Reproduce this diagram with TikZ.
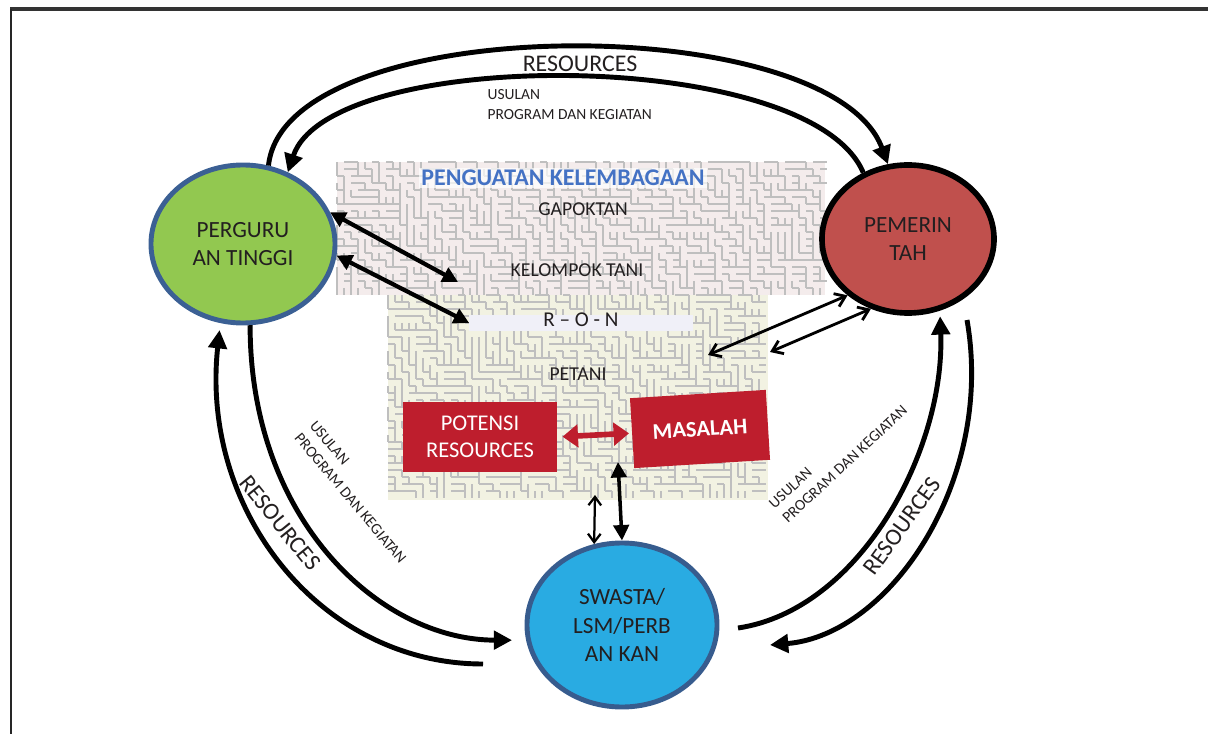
\documentclass[tikz,border=0pt]{standalone}
\usepackage{fontspec}
\setmainfont{Carlito}
\usetikzlibrary{shapes.geometric,arrows.meta,positioning}
\definecolor{ptgreen}{RGB}{146,200,80}
\definecolor{ptblue}{RGB}{59,96,148}
\definecolor{pmred}{RGB}{192,80,77}
\definecolor{swblue}{RGB}{41,171,226}
\definecolor{swline}{RGB}{55,92,142}
\definecolor{boxred}{RGB}{190,30,45}
\definecolor{titleblue}{RGB}{68,114,196}
\definecolor{txtdark}{RGB}{35,31,32}
\definecolor{bgpink}{RGB}{244,236,236}
\definecolor{bgyellow}{RGB}{242,242,226}
\definecolor{ronfill}{RGB}{240,240,248}
\begin{document}
\begin{tikzpicture}[x=0.025cm, y=-0.025cm,
  main/.style = {draw, ellipse, inner sep=0pt, text=txtdark, align=center, font=\fontsize{16.5}{20}\selectfont},
  redbox/.style = {fill=boxred, text=white, align=center, inner sep=0pt},
  lbl/.style = {text=txtdark, inner sep=1pt, font=\fontsize{14}{17}\selectfont},
  small/.style = {text=txtdark, inner sep=1pt, align=left, font=\fontsize{11}{14}\selectfont},
  big/.style = {text=txtdark, inner sep=1pt, font=\fontsize{17}{20}\selectfont},
  maze/.style = {draw=gray!50, line width=1.1pt},
  bigarc/.style = {line width=3.5pt, -{Triangle[length=13pt,width=13pt]}},
  dblthick/.style = {line width=3pt, {Triangle[length=11pt,width=11pt]}-{Triangle[length=11pt,width=11pt]}},
  dblmid/.style = {line width=2pt, {Straight Barb[length=7pt,width=10pt,line width=2pt]}-{Straight Barb[length=7pt,width=10pt,line width=2pt]}},
  dblthin/.style = {line width=1.6pt, {Straight Barb[length=6pt,width=9pt,line width=1.6pt]}-{Straight Barb[length=6pt,width=9pt,line width=1.6pt]}},
  redarrow/.style = {draw=boxred, line width=4pt, {Triangle[length=11pt,width=16pt]}-{Triangle[length=11pt,width=16pt]}},
  ]
\useasboundingbox (0,0) rectangle (1208,734);
% frame
\draw[line width=2.2pt, draw=black!80] (10,9) -- (1208,9);
\draw[line width=1.4pt, draw=black!85] (11,9) -- (11,734);

% textured background
\fill[bgpink] (337,162) rectangle (825,295);
\fill[bgyellow] (388,295) rectangle (768,500);
\pgfmathsetseed{11}
\foreach \i in {0,...,69}
  \foreach \j in {0,...,18} {
    \pgfmathtruncatemacro\r{rnd<0.5}
    \ifnum\r=1 \draw[maze] (337+7*\i,162+7*\j) -- ++(7,0);
    \else \draw[maze] (337+7*\i,162+7*\j) -- ++(0,7); \fi
  }
\foreach \i in {0,...,53}
  \foreach \j in {0,...,28} {
    \pgfmathtruncatemacro\r{rnd<0.5}
    \ifnum\r=1 \draw[maze] (388+7*\i,295+7*\j) -- ++(7,0);
    \else \draw[maze] (388+7*\i,295+7*\j) -- ++(0,7); \fi
  }

% texts in the middle
\node[font=\bfseries\fontsize{17}{20}\selectfont, text=titleblue, inner sep=1.5pt, fill=white, fill opacity=0.7, text opacity=1] (ttl) at (563,178) {PENGUATAN KELEMBAGAAN};
\node[lbl] (gap) at (583,209) {GAPOKTAN};
\node[lbl] (kt) at (577,270) {KELOMPOK TANI};
\node[fill=ronfill, minimum width=5.575cm, inner sep=1pt, text height=7.5pt, text depth=2pt, text=txtdark, font=\fontsize{15}{18}\selectfont] (ron) at (581,323) {R -- O - N};
\node[lbl] (ptn) at (578,374) {PETANI};
\node[redbox, minimum width=3.83cm, minimum height=1.75cm, font=\fontsize{16}{19}\selectfont] (pot) at (480,437) {POTENSI\\RESOURCES};
\node[redbox, rotate=3.5, minimum width=3.4cm, minimum height=1.75cm, font=\bfseries\fontsize{16}{19}\selectfont] (mas) at (700,429) {MASALAH};

% the three parties
\node[main, fill=ptgreen, draw=ptblue, line width=3.5pt, minimum width=4.6cm, minimum height=3.95cm] (pt) at (243,244) {PERGURU\\AN TINGGI};
\node[main, fill=pmred, draw=black, line width=4pt, minimum width=4.3cm, minimum height=3.7cm] (pm) at (908,239) {PEMERIN\\TAH};
\node[main, fill=swblue, draw=swline, line width=3.5pt, minimum width=4.75cm, minimum height=4.1cm] (sw) at (622,625) {SWASTA/\\LSM/PERB\\AN KAN};

% free ends
\coordinate (blL) at (483,664);
\coordinate (brA) at (738,628);
\coordinate (brB) at (967,320);
\coordinate (brC) at (770,645);
\coordinate (ktA) at (458,282);
\coordinate (pmA) at (708,355);
\coordinate (pmB) at (770,352);
\coordinate (swA) at (595,495);
\coordinate (swB) at (618,462);

% big arcs
\draw[bigarc] (pt.72) .. controls (285,10) and (830,8) .. (pm.105);
\draw[bigarc] (pm.124) .. controls (810,46) and (330,46) .. (pt.58);
\draw[bigarc, shorten >=5pt] (blL) .. controls (320,664) and (200,510) .. (pt.-106);
\draw[bigarc, shorten >=10pt] (pt.-85) .. controls (250,520) and (380,640) .. (sw.189);
\draw[bigarc, shorten >=4pt] (brA) .. controls (860,610) and (945,450) .. (pm.-66);
\draw[bigarc] (brB) .. controls (995,480) and (890,635) .. (brC);

% small arrows
\draw[dblthick] (pt.20) -- (ktA);
\draw[dblthick] (pt.-7) -- (ron.west);
\draw[dblmid] (pm.-137) -- (pmA);
\draw[dblmid] (pm.-118) -- (pmB);
\draw[dblthin] (sw.109) -- (swA);
\draw[dblthick, line width=2.5pt] (sw.90) -- (swB);
\draw[redarrow, shorten <=4pt, shorten >=2pt] (pot.east) -- (mas.west);

% labels on the arcs
\node[big] (resT) at (580,64) {RESOURCES};
\node[small, anchor=north west] (uslT) at (486,88) {USULAN\\PROGRAM DAN KEGIATAN};
\node[big, rotate=-51] (resL) at (280,523) {RESOURCES};
\node[small, rotate=-50] (uslL) at (358,492) {USULAN\\PROGRAM DAN KEGIATAN};
\node[big, rotate=54] (resR) at (902,526) {RESOURCES};
\node[small, rotate=43] (uslR) at (838,457) {USULAN\\PROGRAM DAN KEGIATAN};
\end{tikzpicture}
\end{document}
